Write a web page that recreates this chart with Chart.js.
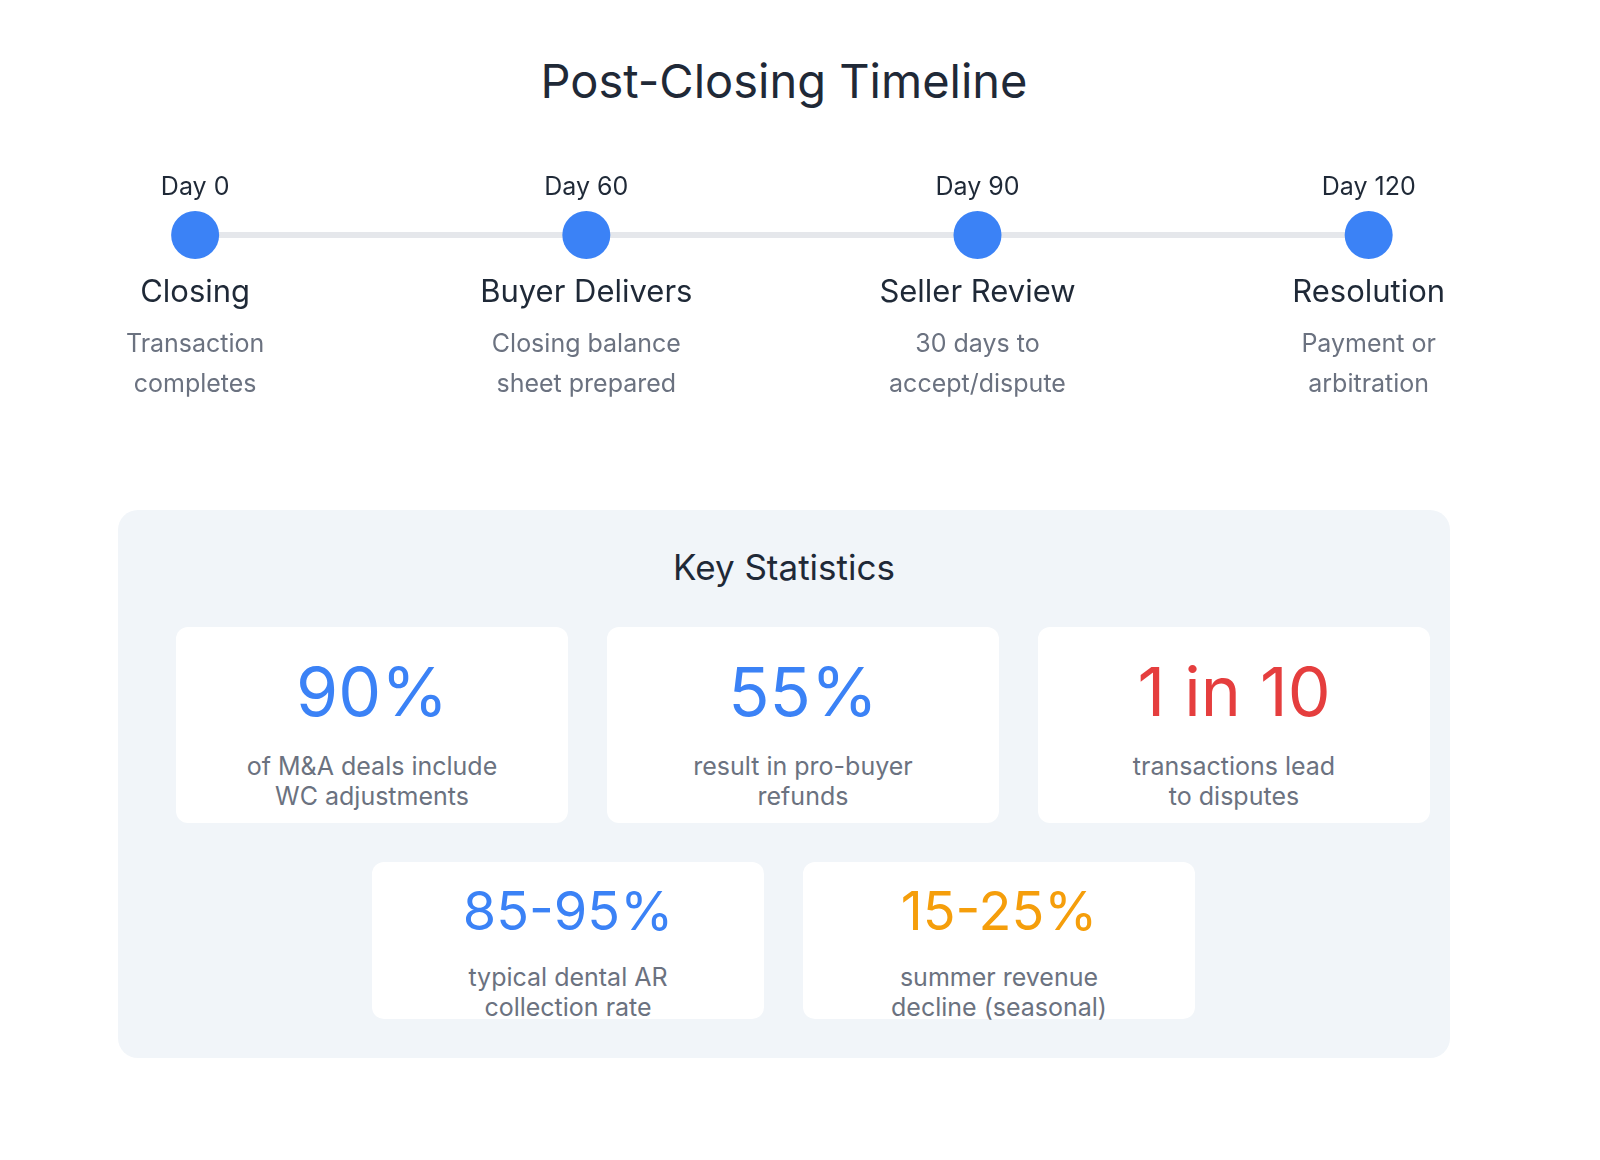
<!DOCTYPE html>
<html>
<head>
<meta charset="utf-8">
<script src="https://cdn.jsdelivr.net/npm/chart.js@4.4.0/dist/chart.umd.min.js"></script>
<style>
  body { margin:0; width:1600px; height:1160px; background:#fff; font-family: Inter, "Noto Sans", sans-serif; position:relative; overflow:hidden; }
  h1 { position:absolute; top:52px; left:0; width:1568px; text-align:center; margin:0; font-weight:400; font-size:47px; color:#1f2937; }
  #wrap { position:absolute; left:0; top:65px; width:1600px; height:340px; }
  .panel { position:absolute; left:118px; top:510px; width:1332px; height:548px; background:#f1f5f9; border-radius:20px; }
  .panel h2 { position:absolute; top:36px; left:0; width:100%; text-align:center; margin:0; font-weight:400; font-size:35px; color:#1f2937; }
  .card { position:absolute; background:#fff; border-radius:12px; width:392px; text-align:center; }
  .num { font-size:68px; line-height:1; margin-top:30px; }
  .num.s { font-size:54px; margin-top:22px; }
  .txt { font-size:25px; color:#6b7280; line-height:30px; margin-top:26px; }
  .txt.s { margin-top:24px; }
</style>
</head>
<body>
<h1>Post-Closing Timeline</h1>
<div id="wrap"><canvas id="tl"></canvas></div>
<div class="panel"><h2>Key Statistics</h2></div>
<div id="cards"></div>
<script>
const days = ['Day 0', 'Day 60', 'Day 90', 'Day 120'];
const stages = ['Closing', 'Buyer Delivers', 'Seller Review', 'Resolution'];
const notes = [['Transaction', 'completes'], ['Closing balance', 'sheet prepared'], ['30 days to', 'accept/dispute'], ['Payment or', 'arbitration']];
const positions = [0, 1, 2, 3];

const statValues = ['90%', '55%', '1 in 10', '85-95%', '15-25%'];
const statNotes = [['of M&A deals include', 'WC adjustments'], ['result in pro-buyer', 'refunds'], ['transactions lead', 'to disputes'], ['typical dental AR', 'collection rate'], ['summer revenue', 'decline (seasonal)']];
const statColors = ['#3b82f6', '#3b82f6', '#e53e3e', '#3b82f6', '#f59e0b'];

const cardPos = [[176,627,196],[607,627,196],[1038,627,196],[372,862,157],[803,862,157]];
const cards = document.getElementById('cards');
statValues.forEach((v, i) => {
  const p = cardPos[i], small = i > 2;
  const d = document.createElement('div');
  d.className = 'card';
  d.style.left = p[0] + 'px'; d.style.top = p[1] + 'px'; d.style.height = p[2] + 'px';
  d.innerHTML = '<div class="num' + (small ? ' s' : '') + '" style="color:' + statColors[i] + '">' + v + '</div>' +
    '<div class="txt' + (small ? ' s' : '') + '">' + statNotes[i].join('<br>') + '</div>';
  cards.appendChild(d);
});

const labelPlugin = {
  id: 'labels',
  afterDatasetsDraw(chart) {
    const ctx = chart.ctx, xs = chart.scales.x, ys = chart.scales.y;
    const y = ys.getPixelForValue(0.5);
    ctx.save();
    ctx.textAlign = 'center';
    ctx.textBaseline = 'middle';
    positions.forEach((p, i) => {
      const x = xs.getPixelForValue(p);
      ctx.fillStyle = '#1f2937';
      ctx.font = '25px Inter';
      ctx.fillText(days[i], x, y - 48);
      ctx.font = '31px Inter';
      ctx.fillText(stages[i], x, y + 58);
      ctx.fillStyle = '#6b7280';
      ctx.font = '25px Inter';
      ctx.fillText(notes[i][0], x, y + 109);
      ctx.fillText(notes[i][1], x, y + 149);
    });
    ctx.restore();
  }
};

new Chart(document.getElementById('tl'), {
  type: 'line',
  data: {
    datasets: [{
      data: positions.map(p => ({ x: p, y: 0.5 })),
      borderColor: '#e5e7eb',
      borderWidth: 6,
      pointRadius: 24,
      pointHoverRadius: 24,
      pointBackgroundColor: '#3b82f6',
      pointBorderWidth: 0
    }]
  },
  options: {
    responsive: true,
    maintainAspectRatio: false,
    animation: false,
    layout: { padding: 0 },
    plugins: { legend: { display: false }, tooltip: { enabled: false } },
    scales: {
      x: { type: 'linear', display: false, min: -0.4375, max: 3.53 },
      y: { display: false, min: 0, max: 1 }
    }
  },
  plugins: [labelPlugin]
});
</script>
</body>
</html>
